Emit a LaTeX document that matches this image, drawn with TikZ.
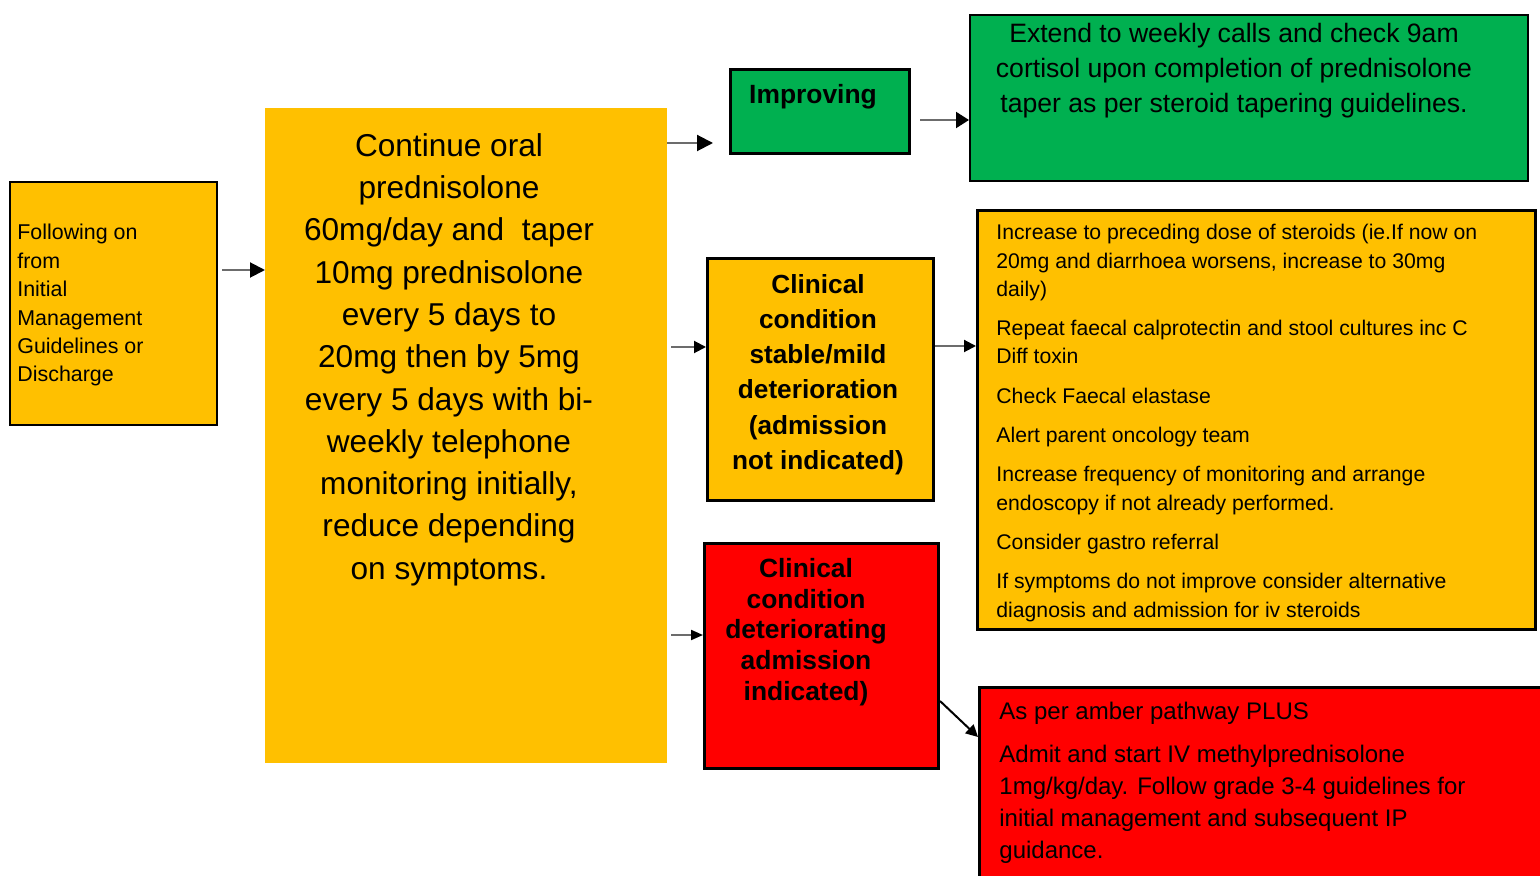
\documentclass[tikz,border=0pt]{standalone}
\usepackage{fontspec}
\setmainfont{Liberation Sans}
\usetikzlibrary{arrows.meta}
\definecolor{amber}{HTML}{FFC000}
\definecolor{okgreen}{HTML}{00B050}
\definecolor{alertred}{HTML}{FF0000}
\newcommand{\fs}[2]{\fontsize{#1}{#2}\selectfont}

\begin{document}
\begin{tikzpicture}[x=0.5pt, y=-0.5pt,
    box/.style={draw=black, line width=1.5pt, anchor=north west, inner sep=0pt},
    txt/.style={inner sep=0pt, anchor=north, align=center},
    ltxt/.style={inner sep=0pt, anchor=north west, align=left},
    arr/.style={draw=gray!85!black, line width=1pt,
      -{Triangle[length=6pt,width=6pt,color=black]}},
  ]
  \useasboundingbox (0,0) rectangle (1540,876);

  % boxes
  \node[box, line width=1.2pt, fill=amber, minimum width=103.3pt, minimum height=121.3pt] (start) at (9,181) {};
  \node[box, draw=none, outer sep=0pt, fill=amber, minimum width=201pt, minimum height=327.5pt] (cont) at (265,108) {};
  \node[box, fill=okgreen, minimum width=89.5pt, minimum height=42pt] (imp) at (729,68) {};
  \node[box, line width=1pt, fill=okgreen, minimum width=279pt, minimum height=83pt] (ext) at (969,14) {};
  \node[box, fill=amber, minimum width=113pt, minimum height=121pt] (stab) at (706,257) {};
  \node[box, fill=alertred, minimum width=117pt, minimum height=112.5pt] (det) at (703,542) {};
  \node[box, fill=amber, minimum width=279pt, minimum height=209.5pt] (amb) at (976,209) {};
  \node[box, fill=alertred, minimum width=291pt, minimum height=107pt] (red) at (978,686) {};

  % texts
  \node[ltxt, font=\fs{10.7}{14.2}] (starttext) at (17,224) {Following on\\from\\Initial\\Management\\Guidelines or\\Discharge};
  \node[txt, font=\fs{15.8}{21.15}] (conttext) at (449,133) {Continue oral\\prednisolone\\60mg/day and\ \ taper\\10mg prednisolone\\every 5 days to\\20mg then by 5mg\\every 5 days with bi-\\weekly telephone\\monitoring initially,\\reduce depending\\on symptoms.};
  \node[txt, font=\bfseries\fs{13.2}{17.6}] (imptext) at (813,84) {Improving};
  \node[txt, font=\fs{13.3}{17.5}] (exttext) at (1234,23) {Extend to weekly calls and check 9am\\cortisol upon completion of prednisolone\\taper as per steroid tapering guidelines.};
  \node[txt, font=\bfseries\fs{13.1}{17.6}] (stabtext) at (818,274) {Clinical\\condition\\stable/mild\\deterioration\\(admission\\not indicated)};
  \node[txt, font=\bfseries\fs{13.2}{15.35}] (dettext) at (806,558) {Clinical\\condition\\deteriorating\\admission\\indicated)};
  \node[ltxt, font=\fs{10.6}{14.15}] (ambtext) at (996,224) {Increase to preceding dose of steroids (ie.If now on\\20mg and diarrhoea worsens, increase to 30mg\\daily)\\[5.5pt]Repeat faecal calprotectin and stool cultures inc C\\Diff toxin\\[5.5pt]Check Faecal elastase\\[5.5pt]Alert parent oncology team\\[5.5pt]Increase frequency of monitoring and arrange\\endoscopy if not already performed.\\[5.5pt]Consider gastro referral\\[5.5pt]If symptoms do not improve consider alternative\\diagnosis and admission for iv steroids};
  \node[ltxt, font=\fs{12}{16}] (redtext) at (999,702) {As per amber pathway PLUS\\[5.5pt]Admit and start IV methylprednisolone\\1mg/kg/day. Follow grade 3-4 guidelines for\\initial management and subsequent IP\\guidance.};

  % arrows
  \draw[arr, -{Triangle[length=7.5pt,width=7.5pt,color=black]}, shorten <=2pt] (start.east |- 0,270) -- (cont.west |- 0,270);
  \draw[arr, -{Triangle[length=8pt,width=8pt,color=black]}, shorten >=8pt] (cont.east |- 0,143) -- (imp.west |- 0,143);
  \draw[arr, -{Triangle[length=6.5pt,width=8pt,color=black]}, shorten <=4.5pt] (imp.east |- 0,120) -- (ext.west |- 0,120);
  \draw[arr, shorten <=2pt] (cont.east |- 0,347) -- (stab.west |- 0,347);
  \draw[arr] (stab.east |- 0,346) -- (amb.west |- 0,346);
  \draw[arr, -{Triangle[length=6pt,width=5pt,color=black]}, shorten <=2pt] (cont.east |- 0,635) -- (det.west |- 0,635);
  \draw[arr, draw=black] (det.east |- 0,701) -- (red.west |- 0,737);
\end{tikzpicture}
\end{document}
